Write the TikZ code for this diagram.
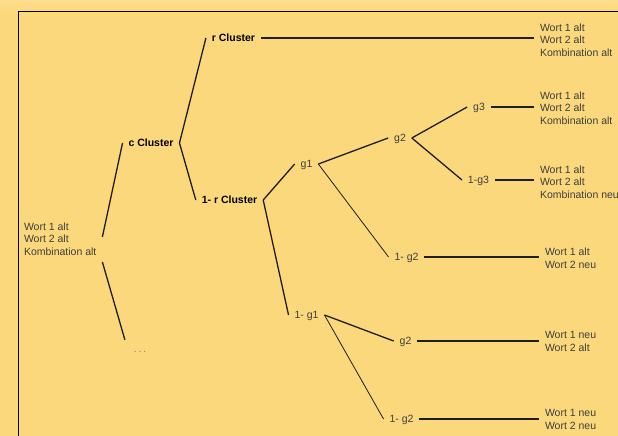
\documentclass[tikz,border=0pt]{standalone}
\usepackage{fontspec}
\setmainfont{Liberation Sans}
\definecolor{bg}{RGB}{252,216,124}
\definecolor{bgtop}{RGB}{253,222,140}
\definecolor{ln}{RGB}{30,30,30}
\definecolor{tx}{RGB}{62,62,62}
\definecolor{dotc}{RGB}{120,135,160}
\begin{document}
\begin{tikzpicture}[x=1pt,y=-1pt,
  every node/.style={font=\fontsize{10.5}{12.5}\selectfont, inner ysep=1pt, inner xsep=6pt, outer sep=0pt},
  clu/.style={font=\fontsize{10.5}{12.5}\selectfont\bfseries, text=black, text height=7.5pt, text depth=0pt},
  gl/.style={text=tx, text height=7.5pt, text depth=0pt},
  lab/.style={text=tx, align=left, anchor=west},
  conn/.style={draw=ln, line width=1.3pt},
  thinconn/.style={draw=ln, line width=0.8pt},
  thickconn/.style={draw=ln, line width=1.7pt}]
\useasboundingbox (0,0) rectangle (618,436);
\clip (0,0) rectangle (618,436);
\fill[bg] (0,0) rectangle (618,436);
\shade[top color=bgtop, bottom color=bg] (0,0) rectangle (618,11);
\draw[black, line width=0.9pt] (18,437) -- (18,11) -- (619,11);

% nodes
\node[lab] (root) at (18,239) {Wort 1 alt\\Wort 2 alt\\Kombination alt};
\node[clu] (cc) at (151,143) {c Cluster};
\node[clu] (rc) at (233.5,38) {r Cluster};
\node[clu] (rc1) at (229.5,200) {1- r Cluster};
\node[text=dotc, inner xsep=9pt, inner ysep=5pt, text height=7.5pt, text depth=0pt] (dots) at (140,348.5) {.\,.\,.};
\node[gl] (g1) at (306.5,164) {g1};
\node[gl] (g1n) at (306.5,315) {1- g1};
\node[gl] (g2a) at (400,138) {g2};
\node[gl] (g2b) at (406.5,257) {1- g2};
\node[gl] (g3) at (479,107) {g3};
\node[gl] (g3n) at (478.5,180) {1-g3};
\node[gl] (g2c) at (405.5,341) {g2};
\node[gl] (g2d) at (401.5,419) {1- g2};

\node[lab] (L1) at (534,40) {Wort 1 alt\\Wort 2 alt\\Kombination alt};
\node[lab] (L2) at (534,108) {Wort 1 alt\\Wort 2 alt\\Kombination alt};
\node[lab] (L3) at (534,182) {Wort 1 alt\\Wort 2 alt\\Kombination neu};
\node[lab] (L4) at (539,258) {Wort 1 alt\\Wort 2 neu};
\node[lab] (L5) at (539,341.5) {Wort 1 neu\\Wort 2 alt};
\node[lab] (L6) at (539,419.5) {Wort 1 neu\\Wort 2 neu};

% connectors
\draw[conn] ([yshift=2pt]root.east) -- (cc.west);
\draw[conn] ([yshift=-23pt]root.east) -- (dots.north west);
\draw[conn] (cc.east) -- (rc.west);
\draw[conn] (cc.east) -- (rc1.west);
\draw[conn] (rc.east) -- (rc.east -| L1.west);
\draw[conn] (rc1.east) -- (g1.west);
\draw[conn] (rc1.east) -- (g1n.west);
\draw[conn] (g1.east) -- (g2a.west);
\draw[thinconn] (g1.east) -- (g2b.west);
\draw[conn] (g2a.east) -- (g3.west);
\draw[conn] (g2a.east) -- (g3n.west);
\draw[conn] (g3.east) -- (g3.east -| L2.west);
\draw[thickconn] (g3n.east) -- (g3n.east -| L3.west);
\draw[thickconn] (g2b.east) -- (g2b.east -| L4.west);
\draw[conn] (g1n.east) -- (g2c.west);
\draw[thinconn] (g1n.east) -- (g2d.west);
\draw[conn] (g2c.east) -- (g2c.east -| L5.west);
\draw[conn] (g2d.east) -- (g2d.east -| L6.west);
\end{tikzpicture}
\end{document}
